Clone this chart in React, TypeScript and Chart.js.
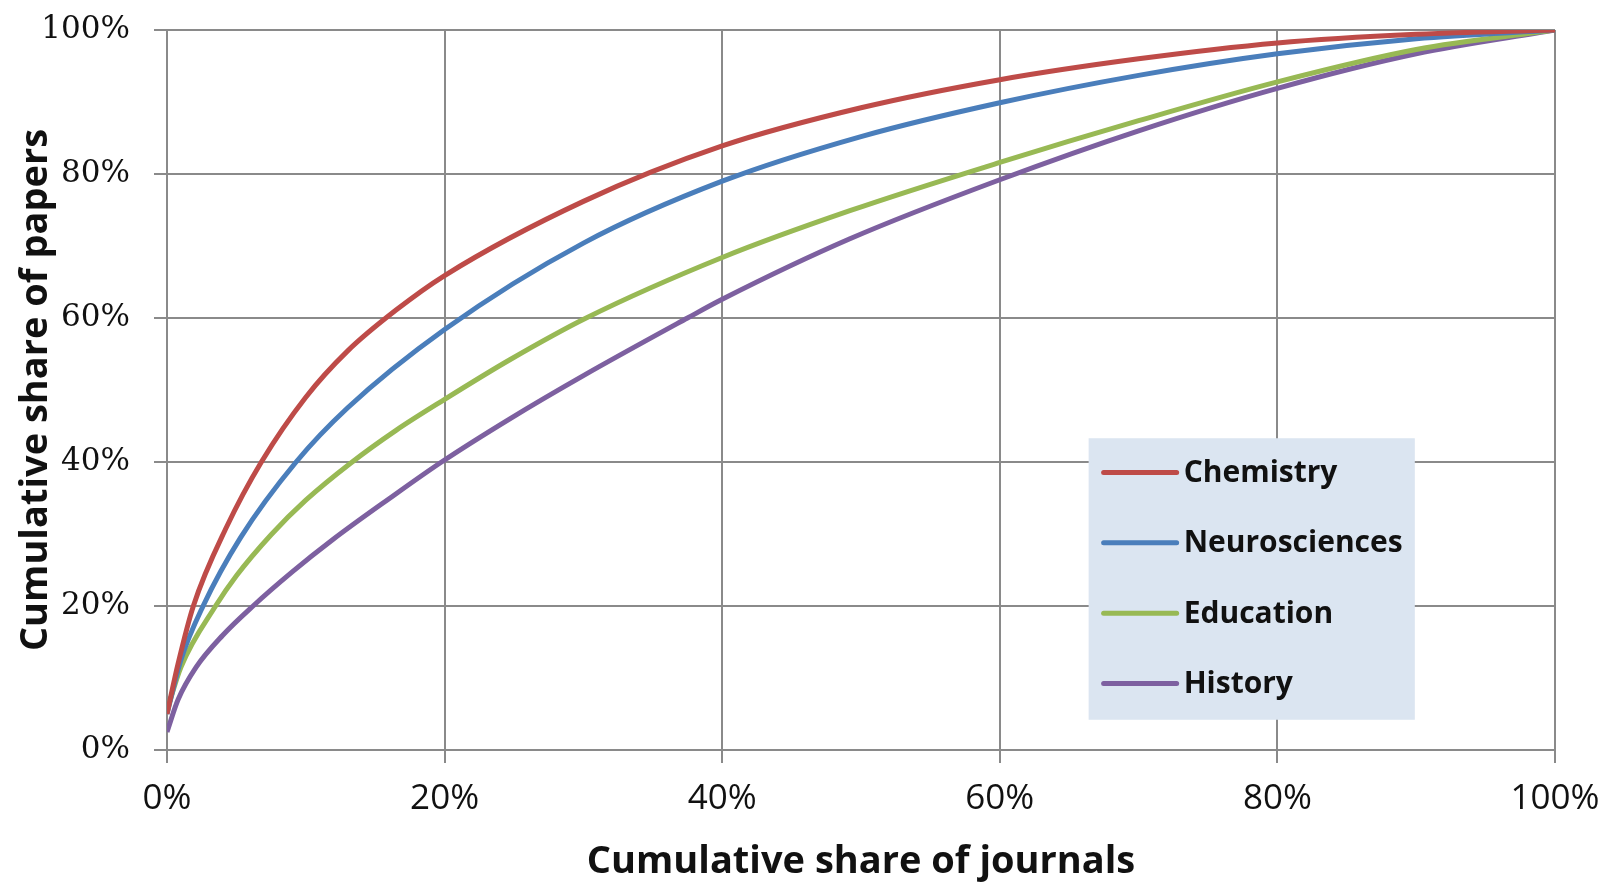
import React, { useEffect, useRef } from "react";
import { Chart, registerables } from "chart.js";

Chart.register(...registerables);

const seriesNames = ["Chemistry", "Neurosciences", "Education", "History"];
const seriesColors = ["#be4b48", "#4a7ebb", "#98b954", "#7d60a0"];

const chemistryX = [0, 0.8, 1.9, 4.3, 6.8, 10, 13, 16.5, 20, 30, 40, 50, 60, 70, 80, 90, 100];
const chemistryY = [5, 12, 20, 31, 40, 49, 55.4, 61.1, 65.9, 76.2, 83.9, 89.2, 93.1, 96.0, 98.2, 99.4, 100];

const neuroX = [0, 1, 2.6, 5.3, 9.3, 13, 20, 30, 40, 50, 60, 70, 80, 90, 100];
const neuroY = [5, 12.5, 20, 29.5, 40, 47.5, 58.4, 70.4, 79, 85.2, 89.9, 93.7, 96.7, 98.8, 100];

const educationX = [0, 1, 3.5, 5, 7.5, 10, 13.2, 16.5, 20, 24.7, 30.2, 40, 49.2, 60, 70, 80, 90, 100];
const educationY = [5.5, 11.5, 20, 24.2, 29.9, 34.7, 39.8, 44.4, 48.7, 54.2, 60, 68.4, 74.9, 81.6, 87.4, 92.8, 97.3, 100];

const historyX = [0, 0.8, 2.1, 4, 6.2, 9, 12, 16, 19.7, 24.7, 30, 37.5, 40, 49.2, 60, 70, 80, 90, 100];
const historyY = [2.5, 7, 11.5, 15.9, 20, 24.7, 29.3, 34.9, 39.9, 46, 52, 60, 62.6, 71, 79.2, 86.0, 91.9, 96.7, 100];

const xTitle = "Cumulative share of journals";
const yTitle = "Cumulative share of papers";

const GRID = "#8a8a8a";

function pts(xs: number[], ys: number[]) {
  return xs.map((x, i) => ({ x, y: ys[i] }));
}

const legendPlugin = {
  id: "boxLegend",
  afterDatasetsDraw(chart: any) {
    const ctx = chart.ctx;
    const xs = chart.scales.x;
    const ys = chart.scales.y;
    const left = xs.getPixelForValue(66.4);
    const right = xs.getPixelForValue(89.9);
    const top = ys.getPixelForValue(43.3);
    const bottom = ys.getPixelForValue(4.2);
    ctx.save();
    ctx.fillStyle = "#dbe5f1";
    ctx.fillRect(left, top, right - left, bottom - top);
    const rowH = (bottom - top) / 4;
    chart.data.datasets.forEach((ds: any, i: number) => {
      const cy = top + rowH * (i + 0.5) - 1;
      ctx.strokeStyle = ds.borderColor;
      ctx.lineWidth = 5;
      ctx.lineCap = "round";
      ctx.beginPath();
      ctx.moveTo(left + 15, cy);
      ctx.lineTo(left + 88, cy);
      ctx.stroke();
      ctx.fillStyle = "#111";
      ctx.font = "bold 30px 'Open Sans'";
      ctx.textBaseline = "middle";
      ctx.textAlign = "left";
      ctx.fillText(ds.label, left + 95, cy + 1);
    });
    ctx.restore();
  },
};

export default function App() {
  const ref = useRef<HTMLCanvasElement>(null);
  useEffect(() => {
    document.body.style.margin = "0";
    document.body.style.overflow = "hidden";
    const data = [
      pts(chemistryX, chemistryY),
      pts(neuroX, neuroY),
      pts(educationX, educationY),
      pts(historyX, historyY),
    ];
    const chart = new Chart(ref.current!, {
      type: "scatter",
      data: {
        datasets: seriesNames.map((name, i) => ({
          label: name,
          data: data[i],
          showLine: true,
          borderColor: seriesColors[i],
          backgroundColor: seriesColors[i],
          borderWidth: 5,
          pointRadius: 0,
          cubicInterpolationMode: "monotone" as const,
        })),
      },
      plugins: [legendPlugin],
      options: {
        animation: false,
        responsive: false,
        layout: { padding: { left: 0, top: 30, right: 48, bottom: 0 } },
        plugins: { legend: { display: false }, tooltip: { enabled: false } },
        scales: {
          x: {
            type: "linear",
            min: 0,
            max: 100,
            afterFit(scale: any) {
              scale.height = 132;
              scale.paddingLeft = 0;
              scale.paddingRight = 0;
            },
            ticks: {
              stepSize: 20,
              callback: (v: any) => v + "%",
              color: "#111",
              font: { family: "'Open Sans'", size: 35 },
              padding: 15,
              maxRotation: 0,
            },
            grid: { color: GRID, lineWidth: 2, tickLength: 13 },
            border: { color: GRID, width: 2 },
            title: {
              display: true,
              text: xTitle,
              color: "#111",
              font: { family: "'Open Sans'", size: 38, weight: "bold", lineHeight: 1.05 },
              padding: { top: 0, bottom: 0 },
            },
          },
          y: {
            type: "linear",
            min: 0,
            max: 100,
            afterFit(scale: any) {
              scale.width = 167;
              scale.paddingTop = 0;
              scale.paddingBottom = 0;
            },
            ticks: {
              stepSize: 20,
              callback: (v: any) => v + "%",
              color: "#111",
              font: { family: "'DejaVu Serif'", size: 31 },
              padding: 24,
            },
            grid: { color: GRID, lineWidth: 2, tickLength: 13 },
            border: { color: GRID, width: 2 },
            title: {
              display: true,
              text: yTitle,
              color: "#111",
              font: { family: "'Open Sans'", size: 38, weight: "bold" },
              padding: { top: 13, bottom: 0 },
            },
          },
        },
      },
    });
    return () => chart.destroy();
  }, []);
  return (
    <canvas
      ref={ref}
      width={1603}
      height={882}
      style={{ display: "block", width: 1603, height: 882 }}
    />
  );
}
